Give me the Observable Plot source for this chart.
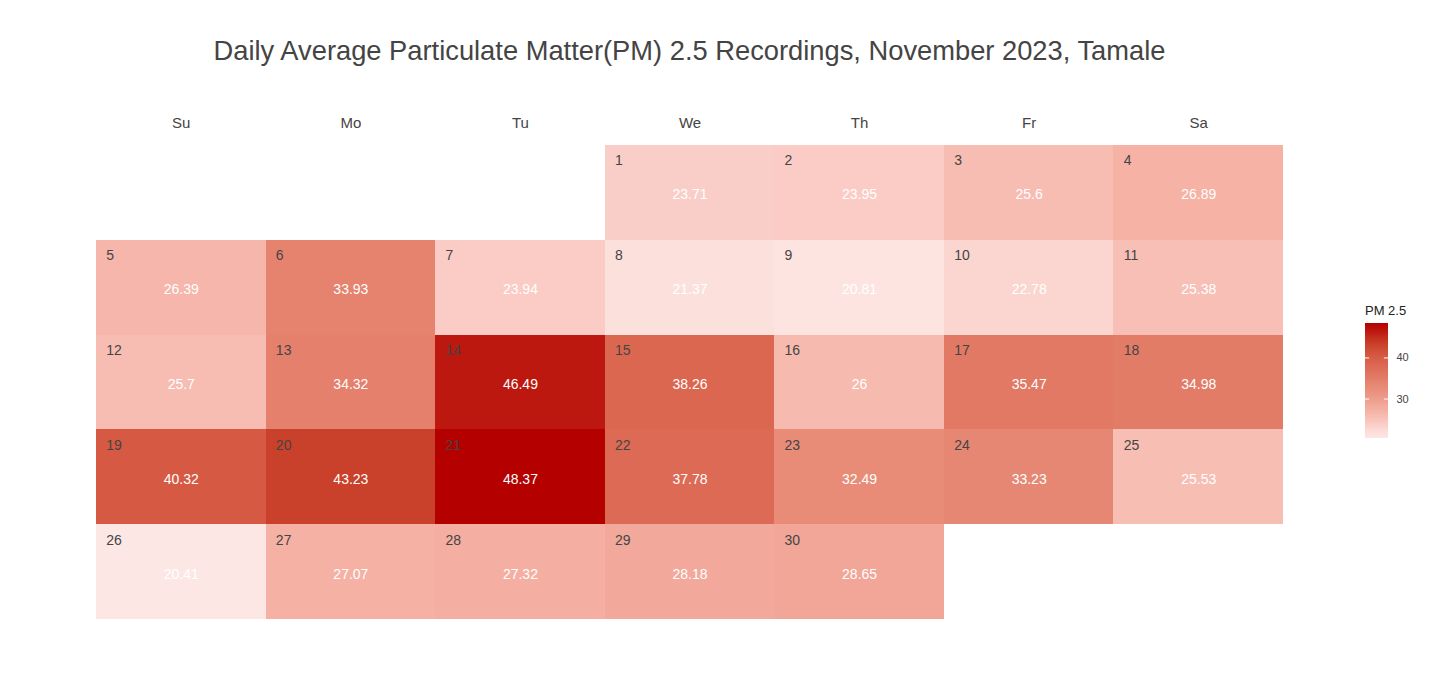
<!DOCTYPE html>
<html>
<head>
<meta charset="utf-8">
<script src="https://cdn.jsdelivr.net/npm/d3@7"></script>
<script src="https://cdn.jsdelivr.net/npm/@observablehq/plot@0.6"></script>
<style>
  body { margin: 0; background: #fff; font-family: "Liberation Sans", Arial, sans-serif; }
  #wrap { position: relative; width: 1437px; height: 691px; }
  #title { position: absolute; left: 96px; width: 1187px; top: 35px; text-align: center;
           font-size: 27.3px; color: #444; white-space: nowrap; }
  #chart { position: absolute; left: 0; top: 0; }
  #legtitle { position: absolute; left: 1365px; top: 303px; font-size: 13px; color: #222; }
  #legend { position: absolute; left: 1360px; top: 318px; }
</style>
</head>
<body>
<div id="wrap">
  <div id="chart"></div>
  <div id="title">Daily Average Particulate Matter(PM) 2.5 Recordings, November 2023, Tamale</div>
  <div id="legtitle">PM 2.5</div>
  <div id="legend"></div>
</div>
<script>
// ---- data ----
const days = d3.range(1, 31);
const pm25 = [23.71, 23.95, 25.6, 26.89, 26.39, 33.93, 23.94, 21.37, 20.81, 22.78,
              25.38, 25.7, 34.32, 46.49, 38.26, 26, 35.47, 34.98, 40.32, 43.23,
              48.37, 37.78, 32.49, 33.23, 25.53, 20.41, 27.07, 27.32, 28.18, 28.65];
const weekdayLabels = ["Su", "Mo", "Tu", "We", "Th", "Fr", "Sa"];
const legendTicks = [30, 40];
// color ramp stops (value -> colour)
const colorStops = [20.41, 22.78, 23.71, 26.89, 32.49, 40.32, 43.23, 48.37];
const colorRange = ["#fde7e5", "#fbd6d0", "#facec8", "#f5b2a5", "#e88c78", "#d65a43", "#c9412a", "#b50000"];

const year = 2023, month = 10; // November (0-based)
const firstDow = new Date(year, month, 1).getDay();
const rows = days.map((d, i) => {
  const dow = new Date(year, month, d).getDay();
  return {day: d, pm: pm25[i], wd: weekdayLabels[dow], week: Math.floor((d - 1 + firstDow) / 7)};
});

const colorScale = {type: "linear", domain: colorStops, range: colorRange, interpolate: "rgb"};

const chart = Plot.plot({
  width: 1437,
  height: 691,
  marginLeft: 96,
  marginRight: 154,
  marginTop: 145,
  marginBottom: 72,
  style: {fontFamily: "'Liberation Sans', Arial, sans-serif", color: "#444", background: "transparent"},
  x: {domain: weekdayLabels, padding: 0, round: false, axis: "top", tickSize: 0, tickPadding: 18, label: null, fontSize: 15},
  y: {domain: d3.range(5), padding: 0, round: false, axis: null},
  color: colorScale,
  marks: [
    Plot.cell(rows, {x: "wd", y: "week", fill: "pm", inset: 0, shapeRendering: "crispEdges"}),
    Plot.text(rows, {x: "wd", y: "week", text: d => String(d.day), textAnchor: "start",
                     dx: -75, dy: -32, fill: "#444", fontSize: 14}),
    Plot.text(rows, {x: "wd", y: "week", text: d => String(d.pm), dy: 2,
                     fill: "#fff", fontSize: 14})
  ]
});
chart.querySelectorAll("g[aria-label='x-axis tick label'] text").forEach(t => t.style.fontSize = "15px");
document.getElementById("chart").appendChild(chart);

// vertical colour bar legend
const lo = d3.min(pm25), hi = d3.max(pm25);
const steps = d3.range(0, 120).map(i => ({y1: lo + (hi - lo) * i / 120, y2: lo + (hi - lo) * (i + 1) / 120}));
const legend = Plot.plot({
  width: 70,
  height: 125,
  marginLeft: 5,
  marginRight: 42,
  marginTop: 5,
  marginBottom: 5,
  style: {fontFamily: "'Liberation Sans', Arial, sans-serif", color: "#444", fontSize: "11px", background: "transparent"},
  x: {domain: [0, 1], axis: null},
  y: {domain: [lo, hi], axis: "right", ticks: legendTicks, tickSize: 0, tickPadding: 8, label: null},
  color: colorScale,
  marks: [
    Plot.rect(steps, {x1: 0, x2: 1, y1: "y1", y2: "y2", fill: d => (d.y1 + d.y2) / 2, shapeRendering: "crispEdges"}),
    Plot.ruleY(legendTicks, {x1: 0, x2: 0.18, stroke: "#fff"}),
    Plot.ruleY(legendTicks, {x1: 0.82, x2: 1, stroke: "#fff"})
  ]
});
document.getElementById("legend").appendChild(legend);
</script>
</body>
</html>
